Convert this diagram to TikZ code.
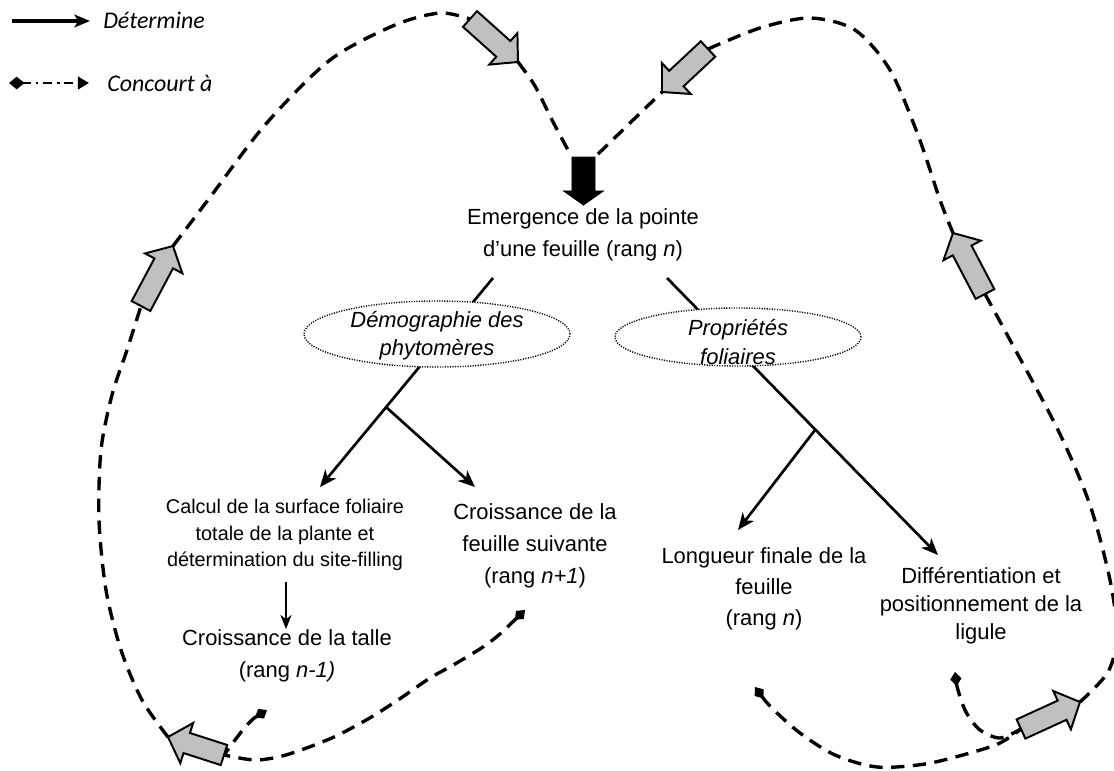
\documentclass[tikz,border=0pt]{standalone}
\usepackage{fontspec}
\setmainfont{Liberation Sans}
\newfontfamily\legendfont{Carlito}
\usetikzlibrary{calc,arrows.meta,shapes.geometric}

\definecolor{blockgrey}{RGB}{192,192,192}

% Block arrow drawn between the coordinates (#1-tail) and (#1-tip):
% #2 style, #3 shaft half-width, #4 head half-width, #5 head length
\newcommand\blockarr[5]{%
  \coordinate (#1-neck) at ($(#1-tip)!#5!(#1-tail)$);
  \draw[#2] ($(#1-tail)!#3!90:(#1-tip)$) -- ($(#1-neck)!#3!90:(#1-tip)$)
    -- ($(#1-neck)!#4!90:(#1-tip)$) -- (#1-tip)
    -- ($(#1-neck)!#4!-90:(#1-tip)$) -- ($(#1-neck)!#3!-90:(#1-tip)$)
    -- ($(#1-tail)!#3!-90:(#1-tip)$) -- cycle;
}

\begin{document}
\begin{tikzpicture}[x={(0.025cm,0)}, y={(0,-0.025cm)},
  label/.style={align=center, inner sep=0pt, font=\fontsize{15.6}{22.8}\selectfont},
  small label/.style={align=center, inner sep=0pt, font=\fontsize{14.1}{18.9}\selectfont},
  theme/.style={ellipse, draw, fill=white, line width=1pt,
    dash pattern=on 0.8pt off 1pt, inner sep=0pt},
  theme text/.style={align=center, inner sep=0pt, font=\itshape\fontsize{15.6}{20}\selectfont},
  determines/.style={line width=1.9pt, -{Stealth[length=12pt,width=10pt,inset=3.5pt]}},
  determines thin/.style={line width=1.2pt, -{Stealth[length=10pt,width=8pt,inset=3pt]}},
  contributes/.style={line width=2.4pt, dash pattern=on 9.5pt off 6pt},
  diamondstart/.style={{Diamond[length=10pt,width=8pt]}-},
  grey block/.style={fill=blockgrey, draw=black, line width=1.4pt, line join=miter},
  black block/.style={fill=black, draw=black, line width=0.6pt, line join=miter},
  legend text/.style={anchor=west, inner sep=0pt, font=\legendfont\itshape\fontsize{17}{20}\selectfont},
]
\useasboundingbox (0,0) rectangle (1114,771);
\clip (0,0) rectangle (1114,771);

% ---------- legend ----------
\coordinate (lg1-a) at (12,21);
\coordinate (lg1-b) at (90,21);
\node[legend text] (lg1) at (103,20) {Détermine};
\draw[line width=2.3pt, -{Stealth[length=11pt,width=9pt,inset=2.5pt]}] (lg1-a) -- (lg1-b);

\coordinate (lg2-a) at (9,83);
\coordinate (lg2-b) at (89,83);
\node[legend text] (lg2) at (107,83) {Concourt à};
\draw[line width=2pt, dash pattern=on 6pt off 3.5pt on 2pt off 3.5pt,
  {Diamond[length=11pt,width=9pt]}-{Triangle[length=8pt,width=9pt]}] (lg2-a) -- (lg2-b);

% ---------- loop coordinates ----------
\coordinate (blk-tail) at (583.5,157);
\coordinate (blk-tip) at (583.5,205);
\coordinate (blk-nw) at (569,152);
\coordinate (blk-ne) at (598,154);

\coordinate (tl-tail) at (470,19);   \coordinate (tl-tip) at (518,62);
\coordinate (tr-tail) at (708,49);   \coordinate (tr-tip) at (662,92);
\coordinate (l-tail) at (141,306);   \coordinate (l-tip) at (173,246);
\coordinate (r-tail) at (985,294);   \coordinate (r-tip) at (953,233);
\coordinate (bl-tail) at (224,755);  \coordinate (bl-tip) at (168,737);
\coordinate (br-tail) at (1021,729); \coordinate (br-tip) at (1080,702);

\coordinate (d1) at (267,710);
\coordinate (d2) at (525,610);
\coordinate (d3) at (755,687);
\coordinate (d4) at (955,672);

% ---------- dashed feedback loops ----------
\draw[contributes] plot[smooth] coordinates {(bl-tip) (142,700) (121,650) (106,590) (99,520) (101,450) (112,395) (127,350) (l-tail)};
\draw[contributes] plot[smooth] coordinates {(l-tip) (208,200) (265,125) (330,60) (395,25) (440,13) (tl-tail)};
\draw[contributes] plot[smooth] coordinates {(tl-tip) (535,86) (551,118) (blk-nw)};
\draw[contributes] (blk-ne) -- (tr-tip);
\draw[contributes] plot[smooth] coordinates {(tr-tail) (760,28) (810,18) (855,30) (890,70) (918,135) (940,200) (r-tip)};
\draw[contributes] plot[smooth] coordinates {(r-tail) (1010,340) (1058,430) (1090,505) (1110,580) (1117,635) (1108,672) (br-tip)};

\draw[contributes, diamondstart] plot[smooth] coordinates {(d1) (247,725) (bl-tail)};
\draw[contributes, diamondstart] plot[smooth] coordinates {(d2) (490,642) (455,664) (430,678) (398,700) (368,719) (334,737) (301,750) (278,757) (254,760) (bl-tail)};
\draw[contributes, diamondstart] plot[smooth] coordinates {(d3) (772,708) (800,733) (835,755) (877,767) (925,764) (970,753) (1000,743) (br-tail)};
\draw[contributes, diamondstart] plot[smooth] coordinates {(d4) (958,690) (966,712) (980,730) (1000,738) (br-tail)};

% ---------- block arrows ----------
\blockarr{tl}{grey block}{7.5pt}{15pt}{14pt}
\blockarr{tr}{grey block}{7.5pt}{15pt}{14pt}
\blockarr{l}{grey block}{7.5pt}{15pt}{14pt}
\blockarr{r}{grey block}{7.5pt}{15pt}{14pt}
\blockarr{bl}{grey block}{7.5pt}{15pt}{14pt}
\blockarr{br}{grey block}{7.5pt}{15pt}{14pt}
\blockarr{blk}{black block}{8.2pt}{14.2pt}{10pt}

% ---------- central event ----------
\node[label] (emerg) at (583,235) {Emergence de la pointe\\d’une feuille (rang \textit{n})};

% ---------- tree of consequences ----------
\coordinate (L0) at (493,278);
\coordinate (B1) at (386,407);
\coordinate (R0) at (667,278);
\coordinate (B2) at (815,430);
\coordinate (calc-in) at (320,487);
\coordinate (crf-in) at (475,487);
\coordinate (lon-in) at (738,530);
\coordinate (dif-in) at (938,555);
\coordinate (calc-out) at (286,582);
\coordinate (crt-in) at (286,629);

\draw[determines] (L0) -- (calc-in);
\draw[determines] (B1) -- (crf-in);
\draw[determines] (R0) -- (dif-in);
\draw[determines] (B2) -- (lon-in);
\draw[determines thin] (calc-out) -- (crt-in);

\node[theme, minimum width=6.65cm, minimum height=1.65cm] (demo) at (437,334) {};
\node[theme text] (demo-text) at (437,336) {Démographie des\\phytomères};
\node[theme, minimum width=6.15cm, minimum height=1.45cm] (prop) at (738,337) {};
\node[theme text] (prop-text) at (738,342) {Propriétés\\foliaires};

% ---------- outcomes ----------
\node[small label] (calc) at (285,535) {Calcul de la surface foliaire\\totale de la plante et\\détermination du site-filling};
\node[label] (crf) at (535,546) {Croissance de la\\feuille suivante\\(rang \textit{n+1})};
\node[label] (crt) at (287,656) {Croissance de la talle\\(rang \textit{n-1)}};
\node[label, font=\fontsize{15.6}{22}\selectfont] (lon) at (764,589) {Longueur finale de la\\feuille\\(rang \textit{n})};
\node[label, font=\fontsize{15.6}{20}\selectfont] (dif) at (981,606) {Différentiation et\\positionnement de la\\ligule};
\end{tikzpicture}
\end{document}
